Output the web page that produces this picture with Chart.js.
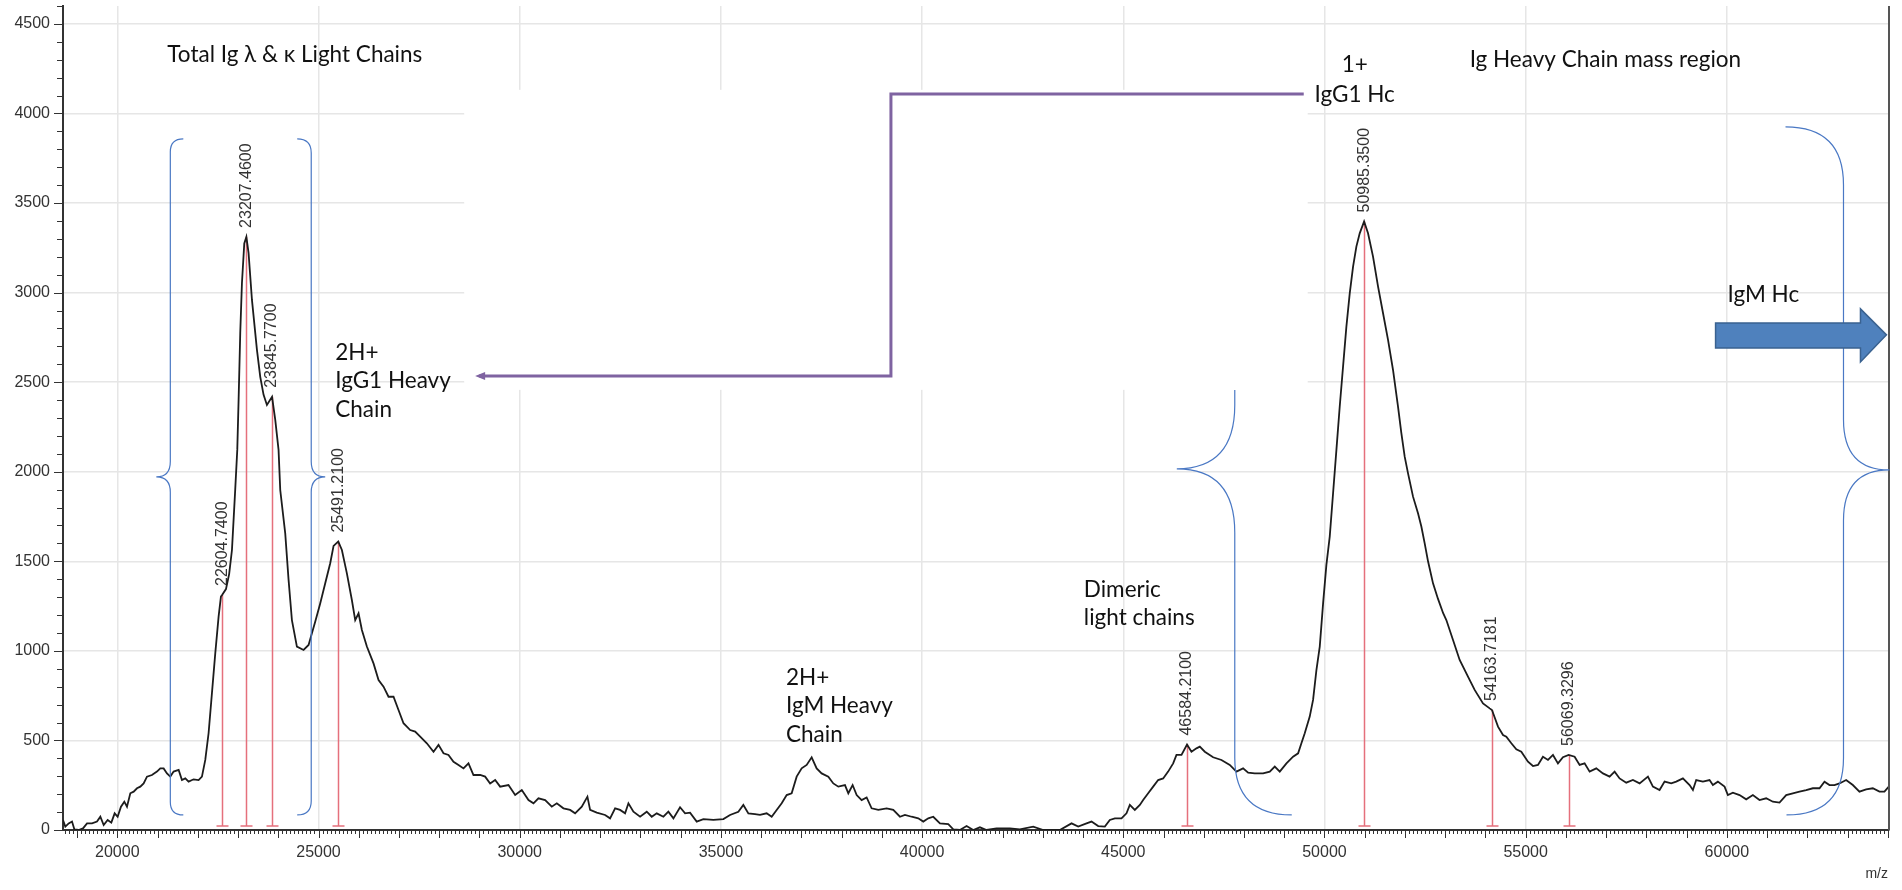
<!DOCTYPE html>
<html>
<head>
<meta charset="utf-8">
<script src="https://cdn.jsdelivr.net/npm/chart.js@4.4.1/dist/chart.umd.min.js"></script>
<style>
html, body { margin: 0; padding: 0; background: #fff; }
</style>
</head>
<body>
<canvas id="spectrum" width="1902" height="890"></canvas>
<script>
// m/z and intensity
const mz = [18650,18708,18791,18874,18932,19040,19147,19247,19371,19495,19578,19661,19760,19851,19934,20008,20091,20174,20240,20323,20406,20489,20571,20654,20737,20861,20985,21068,21151,21234,21317,21399,21524,21606,21689,21772,21896,22020,22103,22186,22268,22351,22434,22517,22575,22604,22700,22780,22849,22930,22981,23014,23055,23097,23155,23207,23262,23346,23470,23552,23635,23718,23845,23925,24007,24049,24173,24256,24339,24463,24629,24753,24836,24918,25042,25167,25291,25374,25491,25581,25705,25829,25912,25995,26078,26202,26367,26492,26616,26740,26864,26988,27112,27278,27402,27527,27692,27858,27982,28106,28230,28355,28479,28603,28727,28851,29017,29141,29265,29390,29514,29721,29887,30052,30218,30342,30466,30632,30797,30922,31087,31253,31377,31543,31683,31750,31915,32122,32246,32371,32495,32619,32702,32826,32992,33157,33281,33406,33571,33695,33820,33985,34110,34234,34399,34565,34813,35062,35227,35434,35558,35683,35848,35972,36138,36262,36386,36511,36635,36759,36883,37007,37132,37256,37380,37504,37670,37794,37918,38084,38167,38274,38374,38498,38622,38746,38912,39119,39284,39450,39574,39740,39905,40030,40154,40278,40444,40651,40775,40940,41106,41272,41437,41602,41851,42182,42431,42762,43010,43424,43714,43880,44087,44211,44377,44542,44666,44791,44956,45080,45163,45287,45412,45494,45619,45743,45867,45991,46115,46240,46322,46447,46584,46695,46819,46902,47026,47233,47440,47647,47813,47978,48103,48268,48475,48641,48765,48889,49055,49220,49345,49427,49510,49634,49717,49800,49883,49966,50048,50131,50214,50297,50379,50462,50545,50628,50711,50793,50876,50985,51083,51207,51332,51456,51580,51704,51828,51911,51994,52077,52201,52325,52408,52491,52574,52698,52822,52950,53029,53195,53360,53567,53733,53940,54106,54163,54313,54437,54520,54644,54768,54892,55058,55182,55306,55430,55555,55679,55803,55927,56069,56217,56341,56465,56590,56755,56921,57086,57211,57335,57500,57666,57832,58039,58163,58328,58453,58618,58742,58908,59074,59157,59239,59405,59570,59653,59777,59943,60026,60150,60316,60481,60647,60812,60978,61144,61309,61475,61640,61806,61972,62137,62303,62427,62551,62675,62800,62965,63131,63296,63462,63628,63793,63917,64025]
const intensity = [56,19,37,47,4,0,9,37,37,47,74,28,56,41,93,74,130,158,130,205,214,233,242,260,298,307,326,344,344,316,298,326,335,279,288,270,283,279,298,391,540,763,986,1191,1303,1312,1345,1430,1563,1900,2122,2401,2775,3052,3275,3311,3220,2959,2680,2530,2429,2373,2418,2289,2122,1898,1656,1396,1172,1024,1005,1033,1098,1163,1265,1377,1489,1586,1610,1563,1433,1284,1172,1210,1117,1024,930,837,800,744,744,670,596,558,549,521,484,437,475,428,419,381,363,344,372,307,307,298,260,279,242,251,195,223,167,149,177,167,130,149,121,112,93,130,186,112,97,84,65,121,112,93,149,102,74,102,74,93,74,102,65,127,93,97,47,61,56,61,84,102,140,93,89,84,93,74,112,149,195,205,298,344,363,406,344,316,298,260,242,251,205,251,195,167,182,121,112,121,112,74,84,74,65,47,65,74,37,33,4,0,22,0,15,0,9,9,4,19,0,0,37,19,37,47,22,19,56,65,65,93,140,112,140,167,205,242,279,288,326,372,419,419,477,437,456,465,437,406,391,363,326,344,320,316,316,326,354,326,372,409,428,484,540,633,726,893,1024,1265,1480,1638,1880,2122,2363,2587,2810,2996,3145,3257,3331,3397,3331,3201,3033,2885,2736,2568,2363,2215,2084,1991,1861,1768,1694,1600,1500,1377,1290,1210,1172,1061,949,856,782,707,679,670,577,530,521,484,450,437,381,357,363,409,391,419,372,406,419,409,363,372,326,344,316,298,326,288,264,279,260,298,242,223,270,260,270,288,251,223,279,270,279,251,270,242,195,208,195,171,195,167,177,158,153,195,205,214,223,233,233,270,251,251,260,279,251,214,227,233,214,214,242]

// labelled peaks
const peakMz = [22604.74, 23207.46, 23845.77, 25491.21, 46584.21, 50985.35, 54163.7181, 56069.3296]
const peakInt = [1312, 3311, 2418, 1610, 477, 3397, 670, 419]
const peakLabels = ["22604.7400", "23207.4600", "23845.7700", "25491.2100", "46584.2100", "50985.3500", "54163.7181", "56069.3296"]

// axis ranges and tick values
const xRange = [18650, 64030]
const yRange = [0, 4600]
const xTicks = [20000, 25000, 30000, 35000, 40000, 45000, 50000, 55000, 60000]
const yTicks = [0, 500, 1000, 1500, 2000, 2500, 3000, 3500, 4000, 4500]

// notes: text lines, anchor in data units
const notes = [
    { lines: ["Total Ig \u03BB & \u03BA Light Chains"], x: 21242, y: 4288, align: "left" },
    { lines: ["2H+", "IgG1 Heavy", "Chain"], x: 25415, y: 2624, align: "left" },
    { lines: ["1+"], x: 50752, y: 4232, align: "center" },
    { lines: ["IgG1 Hc"], x: 50752, y: 4065, align: "center" },
    { lines: ["Ig Heavy Chain mass region"], x: 53608, y: 4260, align: "left" },
    { lines: ["IgM Hc"], x: 60017, y: 2948, align: "left" },
    { lines: ["2H+", "IgM Heavy", "Chain"], x: 36618, y: 810, align: "left" },
    { lines: ["Dimeric", "light chains"], x: 44020, y: 1301, align: "left" }
]

// braces: line x, ends, tip (data units)
const braces = [
    { x: 21317, top: 3858, bottom: 84, endTop: 21640, endBottom: 21640, tipX: 20969, tipY: 1971 },
    { x: 24819, top: 3858, bottom: 84, endTop: 24471, endBottom: 24471, tipX: 25167, tipY: 1971 },
    { x: 47771, top: 2457, bottom: 84, endTop: null, endBottom: 49187, tipX: 46330, tipY: 2016 },
    { x: 62899, top: 3925, bottom: 84, endTop: 61458, endBottom: 61483, tipX: 64041, tipY: 2010 }
]

// elbow arrow from "IgG1 Hc" to the 2H+ label
const elbowX = [49485, 39226, 39226, 28992]
const elbowY = [4109, 4109, 2535, 2535]

// block arrow towards IgM
const blockArrow = { x0: 59720, xHead: 63321, xTip: 63967, yMid: 2764, shaftTop: 2831, shaftBot: 2691, headTop: 2909, headBot: 2613 }

// patch of plot hidden behind the pasted arrow picture
const coverBox = { x0: 28620, x1: 49584, y0: 2457, y1: 4132 }

const decor = {
    id: "decor",
    beforeDatasetsDraw(chart) {
        const ctx = chart.ctx
        const xs = chart.scales.x, ys = chart.scales.y
        ctx.save()
        ctx.fillStyle = "#fff"
        const bx = xs.getPixelForValue(coverBox.x0), by = ys.getPixelForValue(coverBox.y1)
        ctx.fillRect(bx, by, xs.getPixelForValue(coverBox.x1) - bx, ys.getPixelForValue(coverBox.y0) - by)

        // peak sticks
        ctx.strokeStyle = "#e5707c"
        ctx.lineWidth = 1.5
        const base = ys.getPixelForValue(0) - 4
        peakMz.forEach((m, i) => {
            const px = Math.round(xs.getPixelForValue(m)) + 0.5
            const top = ys.getPixelForValue(peakInt[i])
            ctx.beginPath()
            ctx.moveTo(px, top)
            ctx.lineTo(px, base)
            ctx.moveTo(px - 6, base)
            ctx.lineTo(px + 6, base)
            ctx.stroke()
        })
        ctx.fillStyle = "#333"
        ctx.font = "16px 'Liberation Sans', Arial, sans-serif"
        ctx.textAlign = "left"
        ctx.textBaseline = "middle"
        peakMz.forEach((m, i) => {
            ctx.save()
            ctx.translate(xs.getPixelForValue(m), ys.getPixelForValue(peakInt[i]) - 9)
            ctx.rotate(-Math.PI / 2)
            ctx.fillText(peakLabels[i], 0, 0)
            ctx.restore()
        })
        ctx.restore()
    },
    afterDraw(chart) {
        const ctx = chart.ctx
        const xs = chart.scales.x, ys = chart.scales.y
        const area = chart.chartArea
        ctx.save()

        // right frame
        ctx.strokeStyle = "#555"
        ctx.lineWidth = 2
        ctx.beginPath()
        ctx.moveTo(area.right, area.top)
        ctx.lineTo(area.right, area.bottom)
        ctx.stroke()

        // tick marks
        ctx.strokeStyle = "#333"
        ctx.lineWidth = 1
        ctx.beginPath()
        for (let v = yRange[0]; v <= yRange[1]; v += 100) {
            const py = Math.round(ys.getPixelForValue(v)) + 0.5
            const len = v % 500 === 0 ? 8 : 5
            ctx.moveTo(area.left - 1 - len, py)
            ctx.lineTo(area.left, py)
        }
        for (let v = Math.ceil(xRange[0] / 100) * 100; v <= xRange[1]; v += 100) {
            const px = Math.round(xs.getPixelForValue(v)) + 0.5
            const len = v % 1000 === 0 ? 7 : 3
            ctx.moveTo(px, area.bottom)
            ctx.lineTo(px, area.bottom + 1 + len)
        }
        ctx.stroke()

        // m/z
        ctx.fillStyle = "#333"
        ctx.font = "14px 'Liberation Sans', Arial, sans-serif"
        ctx.textAlign = "right"
        ctx.textBaseline = "alphabetic"
        ctx.fillText("m/z", area.right - 1, 878)

        // braces
        ctx.strokeStyle = "#4a78c4"
        ctx.lineWidth = 1.2
        braces.forEach(b => {
            const x = xs.getPixelForValue(b.x)
            const top = ys.getPixelForValue(b.top), bot = ys.getPixelForValue(b.bottom)
            const tx = xs.getPixelForValue(b.tipX), ty = ys.getPixelForValue(b.tipY)
            const rEnd = Math.abs(xs.getPixelForValue(b.endBottom) - x)
            const rTip = Math.abs(tx - x) * 1.1
            ctx.beginPath()
            if (b.endTop !== null) {
                const ex = xs.getPixelForValue(b.endTop)
                const r = Math.abs(ex - x)
                ctx.moveTo(ex, top)
                ctx.quadraticCurveTo(x, top, x, top + r)
            } else {
                ctx.moveTo(x, top)
            }
            ctx.lineTo(x, ty - rTip)
            ctx.quadraticCurveTo(x, ty, tx, ty)
            ctx.quadraticCurveTo(x, ty, x, ty + rTip)
            ctx.lineTo(x, bot - rEnd)
            ctx.quadraticCurveTo(x, bot, xs.getPixelForValue(b.endBottom), bot)
            ctx.stroke()
        })

        // elbow arrow
        ctx.strokeStyle = "#7f63a1"
        ctx.fillStyle = "#7f63a1"
        ctx.lineWidth = 3
        ctx.beginPath()
        elbowX.forEach((v, i) => {
            const px = xs.getPixelForValue(v), py = ys.getPixelForValue(elbowY[i])
            if (i === 0) ctx.moveTo(px, py); else ctx.lineTo(px, py)
        })
        ctx.stroke()
        const hx = xs.getPixelForValue(elbowX[3]), hy = ys.getPixelForValue(elbowY[3])
        ctx.beginPath()
        ctx.moveTo(hx - 4, hy)
        ctx.lineTo(hx + 6, hy - 4)
        ctx.lineTo(hx + 6, hy + 4)
        ctx.closePath()
        ctx.fill()

        // block arrow
        const a = blockArrow
        ctx.beginPath()
        ctx.moveTo(xs.getPixelForValue(a.x0), ys.getPixelForValue(a.shaftTop))
        ctx.lineTo(xs.getPixelForValue(a.xHead), ys.getPixelForValue(a.shaftTop))
        ctx.lineTo(xs.getPixelForValue(a.xHead), ys.getPixelForValue(a.headTop))
        ctx.lineTo(xs.getPixelForValue(a.xTip), ys.getPixelForValue(a.yMid))
        ctx.lineTo(xs.getPixelForValue(a.xHead), ys.getPixelForValue(a.headBot))
        ctx.lineTo(xs.getPixelForValue(a.xHead), ys.getPixelForValue(a.shaftBot))
        ctx.lineTo(xs.getPixelForValue(a.x0), ys.getPixelForValue(a.shaftBot))
        ctx.closePath()
        ctx.fillStyle = "#4f81bd"
        ctx.fill()
        ctx.strokeStyle = "#3a6290"
        ctx.lineWidth = 1.5
        ctx.stroke()

        // notes
        ctx.fillStyle = "#111"
        ctx.font = "22.5px Lato, 'Open Sans', sans-serif"
        ctx.textBaseline = "alphabetic"
        notes.forEach(n => {
            ctx.textAlign = n.align
            const px = xs.getPixelForValue(n.x), py = ys.getPixelForValue(n.y)
            n.lines.forEach((t, i) => ctx.fillText(t, px, py + i * 28.5))
        })
        ctx.restore()
    }
}

const axisFont = { family: "'Liberation Sans', Arial, sans-serif", size: 16 }

new Chart(document.getElementById("spectrum"), {
    type: "line",
    data: {
        datasets: [{
            data: mz.map((m, i) => ({ x: m, y: intensity[i] })),
            borderColor: "#1c1c1c",
            borderWidth: 1.8,
            pointRadius: 0,
            tension: 0,
            fill: false
        }]
    },
    options: {
        responsive: false,
        animation: false,
        devicePixelRatio: 1,
        layout: { padding: { top: 6, right: 13, left: 0, bottom: 0 } },
        plugins: { legend: { display: false }, tooltip: { enabled: false } },
        scales: {
            x: {
                type: "linear",
                min: xRange[0],
                max: xRange[1],
                afterBuildTicks(s) { s.ticks = xTicks.map(v => ({ value: v })) },
                afterFit(s) { s.height = 60; s.paddingLeft = 0; s.paddingRight = 0 },
                grid: { color: "#e6e6e6", lineWidth: 1.5, drawTicks: false },
                border: { display: true, color: "#333", width: 2 },
                ticks: {
                    color: "#333",
                    font: axisFont,
                    padding: 13,
                    maxRotation: 0,
                    autoSkip: false,
                    callback: v => String(v)
                }
            },
            y: {
                min: yRange[0],
                max: yRange[1],
                afterBuildTicks(s) { s.ticks = yTicks.map(v => ({ value: v })) },
                afterFit(s) { s.width = 63; s.paddingTop = 0; s.paddingBottom = 0 },
                grid: { color: "#e6e6e6", lineWidth: 1.5, drawTicks: false },
                border: { display: true, color: "#333", width: 2 },
                ticks: {
                    color: "#333",
                    font: axisFont,
                    padding: 13,
                    callback: v => String(v)
                }
            }
        }
    },
    plugins: [decor]
})
</script>
</body>
</html>
